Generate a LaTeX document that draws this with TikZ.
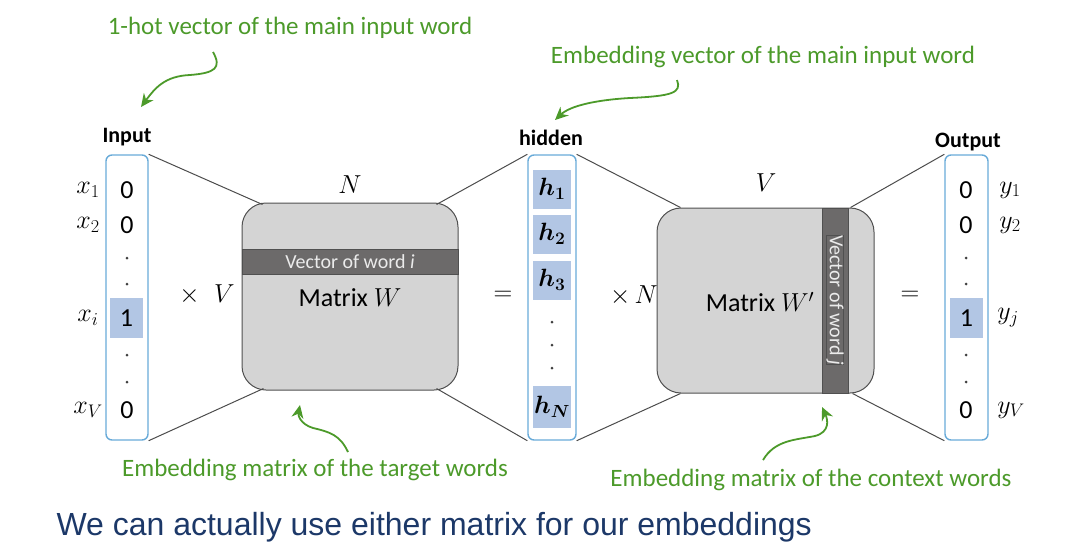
\documentclass[tikz,border=0pt]{standalone}
\usepackage{fix-cm}
\usepackage{amsmath}
\usepackage{fontspec}
\newfontfamily\diagfont{Carlito}
\newfontfamily\capfont{Liberation Sans}
\usetikzlibrary{arrows.meta, calc}
\definecolor{vecblue}{RGB}{104,170,216}
\definecolor{hotblue}{RGB}{178,198,228}
\definecolor{matgray}{RGB}{212,212,212}
\definecolor{bandgray}{RGB}{108,106,106}
\definecolor{matline}{RGB}{80,80,80}
\definecolor{notegreen}{RGB}{76,154,42}
\definecolor{capblue}{RGB}{28,56,104}

\begin{document}
\begin{tikzpicture}[x=1pt,y=-1pt,
  vecbox/.style={draw=vecblue,line width=1.4pt,rounded corners=6pt,minimum width=#1,minimum height=285pt,inner sep=0pt},
  cell/.style={font=\diagfont\fontsize{26}{28}\selectfont,inner sep=0pt},
  hot/.style={fill=hotblue,minimum width=33pt,minimum height=40pt},
  hcell/.style={fill=hotblue,minimum width=38pt,minimum height=39pt,inner sep=0pt,font=\fontsize{25}{28}\selectfont\boldmath},
  dot/.style={circle,fill=black!75,inner sep=0pt,minimum size=3pt},
  head/.style={font=\diagfont\bfseries\fontsize{22}{24}\selectfont},
  lab/.style={font=\fontsize{26}{30}\selectfont},
  matbox/.style={draw=matline,fill=matgray,line width=1pt,rounded corners=24pt,minimum width=#1,inner sep=0pt},
  band/.style={fill=bandgray,draw=matline,line width=0.8pt,inner sep=0pt,text=white!92!black,font=\diagfont\fontsize{20}{22}\selectfont},
  layerline/.style={draw=black!70,line width=1pt},
  note/.style={font=\diagfont\fontsize{25}{28}\selectfont,text=notegreen},
  noteline/.style={draw=notegreen,line width=1.8pt,-{Stealth[length=13pt,width=12pt]}}]
  \useasboundingbox (0,0) rectangle (1088,552);

  % input one-hot vector
  \node[vecbox=42pt] (in) at (127,297.5) {};
  \node[head] (inlab) at (127,137) {Input};
  \node[cell] (in1) at (127,190) {0};
  \node[cell] (in2) at (127,225) {0};
  \node[cell,hot] (ini) at (126.5,318) {1};
  \node[cell] (inV) at (127,410) {0};
  \foreach \y [count=\k] in {258,284,355,382} \node[dot] (ind\k) at (127,\y) {};
  \node[lab] (x1) at (88,190) {$x_1$};
  \node[lab] (x2) at (88,225) {$x_2$};
  \node[lab] (xi) at (88,318) {$x_i$};
  \node[lab] (xV) at (88,410) {$x_V$};

  % matrix W
  \node[matbox=216pt,minimum height=187pt] (W) at (350,296.5) {};
  \node[band,minimum width=216pt,minimum height=25pt] (Wband) at (350,261.5) {Vector of word \textit{i}};
  \node[font=\diagfont\fontsize{26}{28}\selectfont] (Wlab) at (350,298) {Matrix $W$};
  \node[lab] (WN) at (350,185) {$N$};
  \node[lab] (WV) at (207,295) {$\times\;\; V$};
  \node[lab] (eq1) at (503,296) {$=$};

  % hidden vector
  \node[vecbox=48pt] (hid) at (552,297.5) {};
  \node[head] (hidlab) at (551,138) {hidden};
  \node[hcell] (h1) at (552,189) {$h_1$};
  \node[hcell] (h2) at (552,234) {$h_2$};
  \node[hcell] (h3) at (552,280) {$h_3$};
  \node[hcell,minimum height=42pt] (hN) at (552,407) {$h_N$};
  \foreach \y [count=\k] in {322,345,368} \node[dot] (hd\k) at (552,\y) {};
  \node[lab] (xN) at (634,296) {$\times\, N$};

  % matrix W'
  \node[matbox=217pt,minimum height=185pt] (Wp) at (765.5,300.5) {};
  \node[band,minimum width=26pt,minimum height=185pt] (Wpband) at (835,300.5) {};
  \node[band,rotate=-90] (Wpbandlab) at (835,300) {Vector of word \textit{j}};
  \node[font=\diagfont\fontsize{26}{28}\selectfont] (Wplab) at (760,302) {Matrix $W'$};
  \node[lab] (WpV) at (766,183) {$V$};
  \node[lab] (eq2) at (910,296) {$=$};

  % output vector
  \node[vecbox=43pt] (out) at (966.5,297.5) {};
  \node[head] (outlab) at (968,142) {Output};
  \node[cell] (out1) at (966,190) {0};
  \node[cell] (out2) at (966,225) {0};
  \node[cell,hot] (outj) at (966.5,318) {1};
  \node[cell] (outV) at (966,410) {0};
  \foreach \y [count=\k] in {258,284,355,382} \node[dot] (outd\k) at (966,\y) {};
  \node[lab] (y1) at (1010,190) {$y_1$};
  \node[lab] (y2) at (1010,225) {$y_2$};
  \node[lab] (yj) at (1008,318) {$y_j$};
  \node[lab] (yV) at (1011,410) {$y_V$};

  % connectors between layers
  \draw[layerline] (in.north east) -- ($(W.north west)+(21,2)$);
  \draw[layerline] (in.south east) -- ($(W.south west)+(22,-2)$);
  \draw[layerline] ($(W.north east)+(-22,2)$) -- (hid.north west);
  \draw[layerline] ($(W.south east)+(-22,-2)$) -- (hid.south west);
  \draw[layerline] (hid.north east) -- ($(Wp.north west)+(24,0)$);
  \draw[layerline] (hid.south east) -- ($(Wp.south west)+(24,0)$);
  \draw[layerline] ($(Wp.north east)+(-24,0)$) -- (out.north west);
  \draw[layerline] ($(Wp.south east)+(-22,0)$) -- (out.south west);

  % green notes
  \node[note] (n1) at (290,28) {1-hot vector of the main input word};
  \node[note] (n2) at (763,57) {Embedding vector of the main input word};
  \node[note] (n3) at (315,470) {Embedding matrix of the target words};
  \node[note] (n4) at (811,480) {Embedding matrix of the context words};
  \coordinate (a1) at (213,52);
  \coordinate (t1) at (141,107);
  \coordinate (a2) at (677,80);
  \coordinate (t2) at (555,120);
  \coordinate (a3) at (348,452);
  \coordinate (t3) at (300,405);
  \coordinate (a4) at (763,460);
  \coordinate (t4) at (822,407);
  \draw[noteline] (a1) .. controls (222,68) and (215,73) .. (190,75) .. controls (165,76) and (155,88) .. (t1);
  \draw[noteline] (a2) .. controls (682,93) and (672,96) .. (630,98) .. controls (595,100) and (570,106) .. (t2);
  \draw[noteline] (a3) .. controls (340,435) and (330,432) .. (313,428) .. controls (300,424) and (298,415) .. (t3);
  \draw[noteline] (a4) .. controls (775,440) and (795,440) .. (815,436) .. controls (830,432) and (828,420) .. (t4);

  \node[font=\capfont\fontsize{32}{36}\selectfont,text=capblue,anchor=west] (cap) at (53,527) {We can actually use either matrix for our embeddings};
\end{tikzpicture}
\end{document}
